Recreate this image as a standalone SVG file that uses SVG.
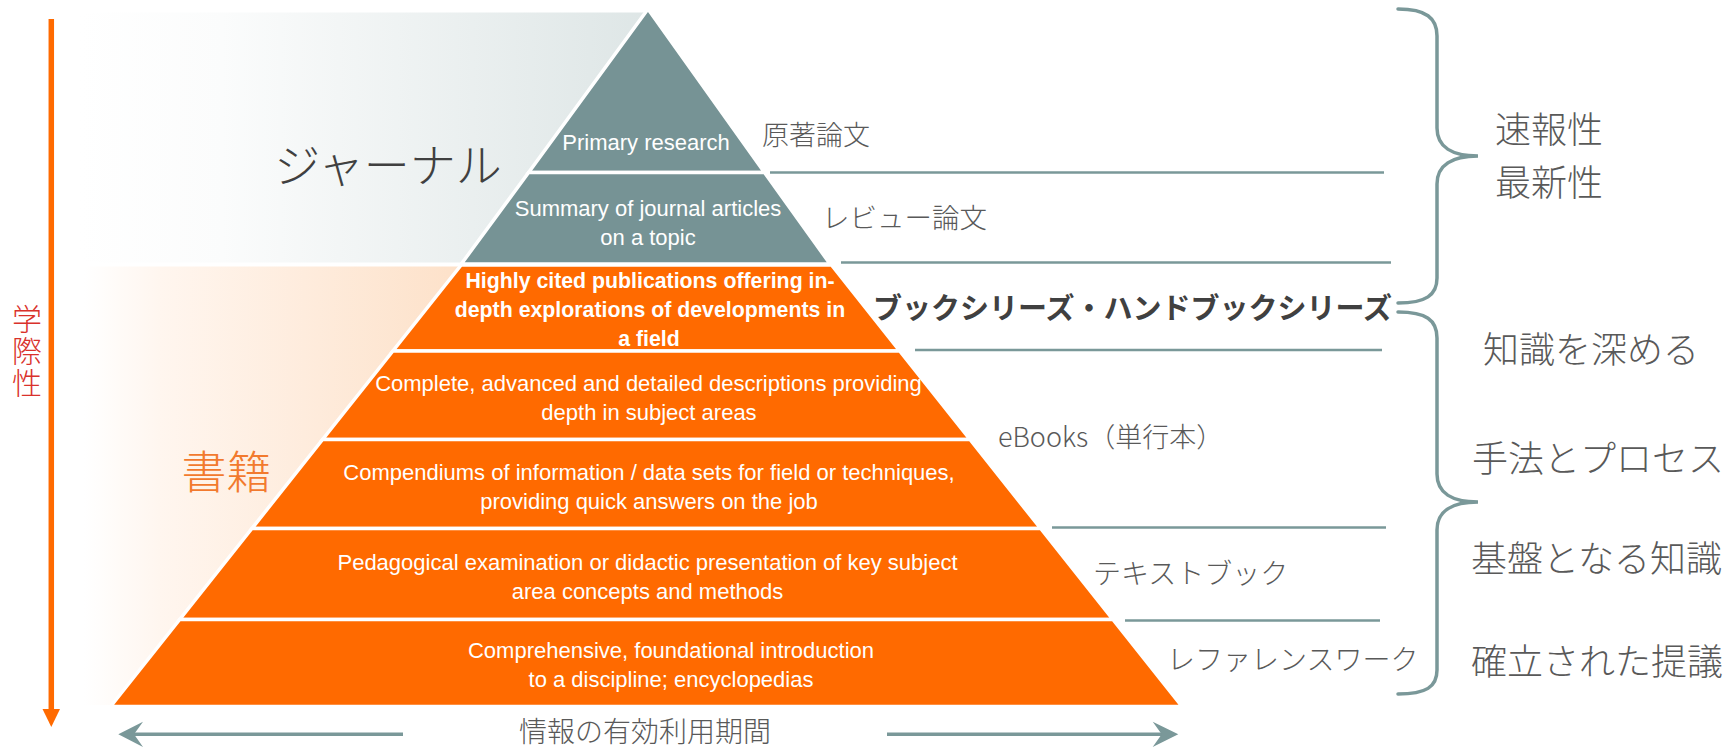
<svg xmlns="http://www.w3.org/2000/svg" width="1733" height="748" viewBox="0 0 1733 748">
<defs>
  <linearGradient id="gGrey" x1="0" y1="0" x2="1" y2="0">
    <stop offset="0" stop-color="#ffffff"/>
    <stop offset="0.25" stop-color="#fbfcfc"/>
    <stop offset="1" stop-color="#dee6e6"/>
  </linearGradient>
  <linearGradient id="gOrange" x1="0" y1="0" x2="1" y2="0">
    <stop offset="0" stop-color="#ffffff"/>
    <stop offset="0.2" stop-color="#fff6ef"/>
    <stop offset="1" stop-color="#fde1c9"/>
  </linearGradient>
</defs>
<style>
  .bg{stroke:none}
  .bandG{fill:#769395;stroke:#ffffff;stroke-width:3.5}
  .bandO{fill:#ff6a00;stroke:#ffffff;stroke-width:3.5}
  .in{font-family:"Liberation Sans",Arial,sans-serif;font-size:22px;fill:#ffffff;text-anchor:middle}
  .inb{font-weight:bold;font-size:21.3px}
  .jp{font-family:"Noto Sans CJK JP","Noto Sans CJK SC",sans-serif;fill:#595959;font-weight:300}
  .sep{stroke:#7a9899;stroke-width:2.5;fill:none}
  .brace{stroke:#7a9899;stroke-width:3.5;fill:none;stroke-linecap:round}
  .harr{stroke:#7a9899;stroke-width:3.5;fill:none}
  .hhead{fill:#7a9899;stroke:none}
</style>

<!-- background fades -->
<rect class="bg" x="80" y="12.5" width="568" height="250" fill="url(#gGrey)"/>
<rect class="bg" x="84" y="266.5" width="378" height="438.5" fill="url(#gOrange)"/>

<!-- journal tiers -->
<g id="tier-primary">
  <polygon class="bandG" points="648,9 764.5,172.5 528.6,172.5"/>
  <text class="in" x="646" y="150">Primary research</text>
</g>
<g id="tier-review">
  <polygon class="bandG" points="528.6,172.5 764.5,172.5 830.1,264 461.3,264"/>
  <text class="in" x="648" y="215.5">Summary of journal articles</text>
  <text class="in" x="648" y="244.5">on a topic</text>
</g>

<!-- book tiers -->
<g id="tier-bookseries">
  <polygon class="bandO" points="461.2,265 831.5,265 899.7,351 392.9,351"/>
  <text class="in inb" x="650" y="288">Highly cited publications offering in-</text>
  <text class="in inb" x="650" y="317">depth explorations of developments in</text>
  <text class="in inb" x="649" y="346">a field</text>
</g>
<g id="tier-monograph">
  <polygon class="bandO" points="392.9,351 899.7,351 970,439.5 322.6,439.5"/>
  <text class="in" x="648.5" y="391">Complete, advanced and detailed descriptions providing</text>
  <text class="in" x="649" y="419.5">depth in subject areas</text>
</g>
<g id="tier-compendium">
  <polygon class="bandO" points="322.6,439.5 970,439.5 1040.7,528.5 251.9,528.5"/>
  <text class="in" x="649" y="480">Compendiums of information / data sets for field or techniques,</text>
  <text class="in" x="649" y="508.5">providing quick answers on the job</text>
</g>
<g id="tier-textbook">
  <polygon class="bandO" points="251.9,528.5 1040.7,528.5 1112.9,619.5 179.7,619.5"/>
  <text class="in" x="647.5" y="570">Pedagogical examination or didactic presentation of key subject</text>
  <text class="in" x="647.5" y="598.5">area concepts and methods</text>
</g>
<g id="tier-reference">
  <polygon class="bandO" points="179.7,619.5 1112.9,619.5 1182,706.5 110.6,706.5"/>
  <text class="in" x="671" y="658">Comprehensive, foundational introduction</text>
  <text class="in" x="671" y="687">to a discipline; encyclopedias</text>
</g>

<!-- category labels -->
<g id="label-journal">
  <text class="jp" x="388" y="182" font-size="46" text-anchor="middle" style="fill:#404040">ジャーナル</text>
</g>
<g id="label-books">
  <text class="jp" x="226.5" y="489" font-size="45" text-anchor="middle" style="fill:#f27a2e">書籍</text>
</g>
<g id="label-academic">
  <text class="jp" x="27" y="304" font-size="30" writing-mode="vertical-rl" letter-spacing="2" style="fill:#d9312b">学際性</text>
</g>
<g id="label-period">
  <text class="jp" x="645" y="742" font-size="28" text-anchor="middle">情報の有効利用期間</text>
</g>

<!-- tier name labels -->
<g id="name-primary"><text class="jp" x="762" y="145" font-size="27">原著論文</text></g>
<g id="name-review"><text class="jp" x="822" y="228" font-size="27.5">レビュー論文</text></g>
<g id="name-bookseries"><text class="jp" x="873" y="319" font-size="29" style="fill:#404040;font-weight:bold">ブックシリーズ・ハンドブックシリーズ</text></g>
<g id="name-ebooks"><text class="jp" x="998" y="447" font-size="27">eBooks（単行本）</text></g>
<g id="name-textbook"><text class="jp" x="1093" y="584" font-size="28">テキストブック</text></g>
<g id="name-reference"><text class="jp" x="1167" y="670" font-size="28">レファレンスワーク</text></g>

<!-- characteristic labels -->
<g id="char-speed">
  <text class="jp" x="1495" y="143" font-size="36">速報性</text>
  <text class="jp" x="1495" y="196" font-size="36">最新性</text>
</g>
<g id="char-deepen"><text class="jp" x="1483" y="363" font-size="36">知識を深める</text></g>
<g id="char-method"><text class="jp" x="1472" y="472" font-size="36">手法とプロセス</text></g>
<g id="char-basis"><text class="jp" x="1471" y="572" font-size="36">基盤となる知識</text></g>
<g id="char-established"><text class="jp" x="1471" y="675" font-size="36">確立された提議</text></g>

<!-- connectors -->
<g id="connectors">
  <line class="sep" x1="770" y1="172.5" x2="1384" y2="172.5"/>
  <line class="sep" x1="841" y1="262.5" x2="1391" y2="262.5"/>
  <line class="sep" x1="915" y1="350" x2="1382" y2="350"/>
  <line class="sep" x1="1052" y1="527.5" x2="1386" y2="527.5"/>
  <line class="sep" x1="1125" y1="620.5" x2="1380" y2="620.5"/>

  <path class="brace" d="M1398,9 C1426,9 1437,18 1437,36 L1437,128 C1437,147 1452,156 1478,156 C1452,156 1437,165 1437,184 L1437,278 C1437,295 1426,303 1398,303"/>
  <path class="brace" d="M1398,312 C1426,312 1437,320 1437,338 L1437,474 C1437,493 1452,502 1478,502 C1452,502 1437,511 1437,530 L1437,670 C1437,687 1426,694 1398,694"/>

  <line x1="51.3" y1="19" x2="51.3" y2="712" stroke="#ff6a00" stroke-width="5.5"/>
  <polygon points="42.5,709 60,709 51.3,727" fill="#ff6a00"/>

  <line class="harr" x1="403" y1="734.3" x2="132" y2="734.3"/>
  <polygon class="hhead" points="118.3,734.3 143,721.7 134,734.3 143,747"/>
  <line class="harr" x1="887" y1="734.3" x2="1163" y2="734.3"/>
  <polygon class="hhead" points="1178.3,734.3 1152.7,721.7 1161.7,734.3 1152.7,747"/>
</g>
</svg>
